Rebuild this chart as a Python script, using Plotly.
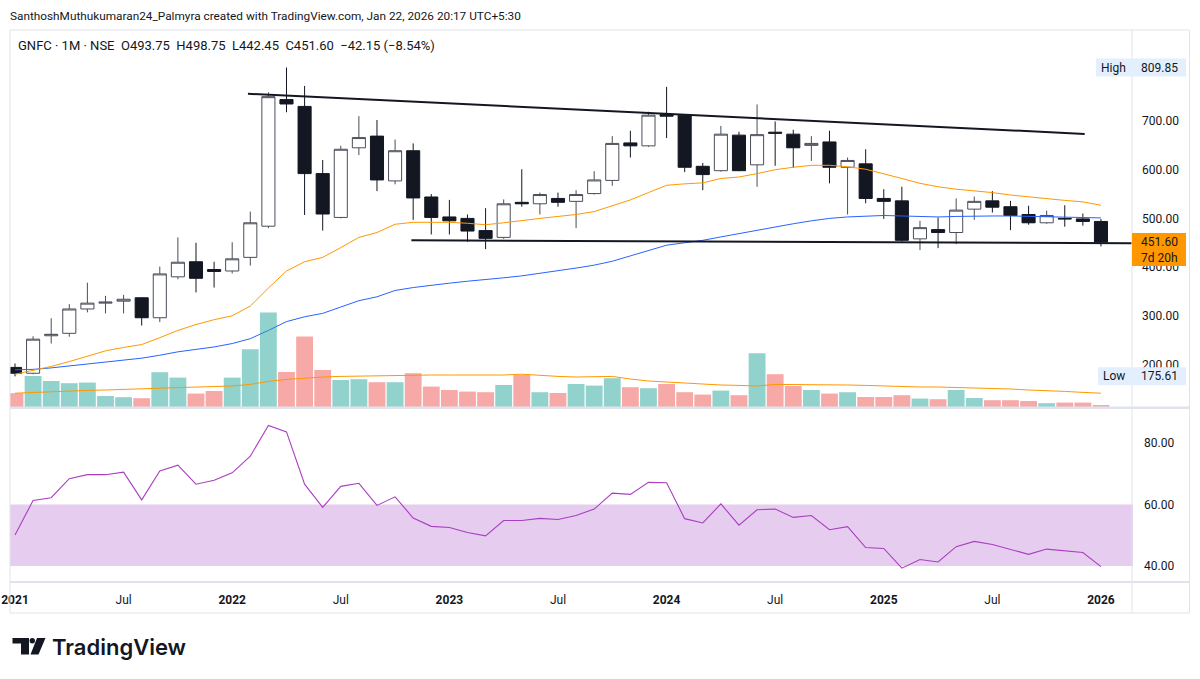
import plotly.graph_objects as go

# ---------------- data ----------------
months = [
    "2021-01", "2021-02", "2021-03", "2021-04", "2021-05", "2021-06", "2021-07", "2021-08", "2021-09", "2021-10", "2021-11", "2021-12",
    "2022-01", "2022-02", "2022-03", "2022-04", "2022-05", "2022-06", "2022-07", "2022-08", "2022-09", "2022-10", "2022-11", "2022-12",
    "2023-01", "2023-02", "2023-03", "2023-04", "2023-05", "2023-06", "2023-07", "2023-08", "2023-09", "2023-10", "2023-11", "2023-12",
    "2024-01", "2024-02", "2024-03", "2024-04", "2024-05", "2024-06", "2024-07", "2024-08", "2024-09", "2024-10", "2024-11", "2024-12",
    "2025-01", "2025-02", "2025-03", "2025-04", "2025-05", "2025-06", "2025-07", "2025-08", "2025-09", "2025-10", "2025-11", "2025-12",
    "2026-01",
]

open_ = [194, 182, 259, 264, 314, 326, 330, 337, 296, 380, 411, 395,
         392, 420, 484, 744, 730, 592, 502, 645, 669, 577, 639, 544,
         503, 500, 475, 461, 533, 530, 541, 535, 551, 578, 655, 649,
         713, 712, 607, 598, 671, 610, 677, 673, 650, 657, 605, 612,
         541, 536, 458, 477, 471, 519, 536, 524, 508, 491, 500, 499,
         493.75]
high = [202, 258, 295, 324, 368, 341, 343, 338, 401, 461, 450, 411,
        451, 514, 759, 809.85, 772, 620, 649, 710, 702, 662, 654, 550,
        538, 508, 521, 539, 601, 553, 553, 558, 597, 669, 680, 719,
        770, 714, 614, 690, 678, 734, 699, 682, 669, 680, 625, 642,
        560, 565, 495, 502, 541, 545, 556, 536, 526, 516, 527, 510,
        498.75]
low = [175.61, 180, 243, 257, 307, 305, 305, 280, 287, 375, 348, 358,
       387, 403, 480, 718, 507, 475, 500, 630, 556, 570, 497, 467,
       467, 452, 437, 458, 524, 508, 524, 480, 549, 567, 625, 647,
       665, 595, 558, 596, 597, 565, 608, 604, 618, 572, 508, 531,
       499, 452, 435, 439, 447, 497, 512, 476, 487, 489, 483, 485,
       442.45]
close = [182, 252, 262, 314, 326, 328, 334, 296, 386, 410, 377, 391,
         417, 491, 750, 735, 592, 509, 642, 666, 579, 639, 542, 502,
         495, 474, 459, 530, 530, 549, 533, 549, 579, 654, 649, 712,
         710, 605, 590, 673, 598, 672, 675, 645, 654, 605, 619, 541,
         535, 455, 481, 471, 517, 535, 523, 506, 491, 506, 499, 493.75,
         451.60]

# volume, millions of shares
volume = [6.9, 15.5, 13.0, 11.9, 12.2, 5.5, 4.9, 4.4, 17.4, 14.7, 6.7, 8.0,
          14.7, 28.9, 47.2, 17.5, 35.2, 18.5, 13.5, 13.9, 12.4, 12.4, 16.9, 10.2,
          8.5, 7.7, 7.4, 11.0, 16.0, 7.4, 7.0, 11.5, 10.7, 14.4, 9.9, 9.4,
          11.5, 7.4, 6.2, 8.2, 5.9, 26.9, 16.4, 10.5, 8.5, 6.7, 7.4, 5.0,
          5.0, 5.9, 4.2, 3.9, 8.5, 4.5, 3.4, 3.4, 3.0, 1.9, 2.2, 2.2,
          1.0]
volume_ma = [6.9, 7.3, 7.7, 8.0, 8.3, 8.5, 8.9, 9.1, 9.4, 9.7, 9.9, 10.2,
             10.5, 11.3, 12.8, 13.8, 14.5, 15.0, 15.3, 15.5, 15.5, 15.8, 16.0, 16.0,
             16.0, 16.0, 16.0, 16.0, 16.4, 15.8, 15.3, 15.0, 15.0, 15.3, 14.0, 13.0,
             12.5, 12.0, 11.3, 11.0, 10.8, 10.5, 11.3, 11.3, 11.0, 11.0, 11.0, 10.8,
             10.5, 10.3, 10.0, 10.0, 9.8, 9.5, 9.4, 9.0, 8.5, 8.3, 7.8, 7.3,
             6.9]

ma_orange = [180, 188, 196, 206, 217, 228, 235, 241, 255, 270, 282, 292,
             300, 320, 357, 392, 411, 420, 440, 461, 471, 488, 492, 492,
             492, 490, 487, 491, 496, 500, 504, 508, 514, 526, 538, 553,
             568, 571, 573, 582, 585, 592, 600, 605, 609, 609, 606, 601,
             592, 582, 572, 565, 560, 557, 553, 548, 544, 541, 537, 534,
             527]
ma_blue = [189, 190, 193, 197, 201, 205, 209, 213, 219, 226, 231, 236,
           243, 253, 270, 288, 298, 305, 318, 331, 339, 352, 358, 363,
           367, 371, 374, 378, 382, 387, 393, 398, 404, 412, 423, 434,
           445, 450, 455, 462, 469, 476, 483, 489, 495, 500, 503, 505,
           506, 505, 504, 503, 504, 505, 505, 505, 504, 503, 503, 502,
           501]

rsi = [50.1, 61.3, 62.2, 68.4, 69.7, 69.7, 70.5, 61.5, 70.9, 72.8, 66.6, 67.9,
       70.3, 75.7, 85.7, 83.6, 66.6, 59.1, 65.9, 66.9, 59.7, 62.5, 55.6, 52.9,
       52.5, 50.9, 49.8, 54.8, 54.8, 55.5, 55.1, 56.4, 58.5, 63.7, 63.3, 67.2,
       67.1, 55.4, 54.0, 60.2, 53.3, 58.3, 58.5, 55.8, 56.4, 51.8, 52.8, 46.0,
       45.7, 39.3, 42.1, 41.3, 46.3, 48.0, 47.0, 45.4, 43.8, 45.5, 44.9, 44.4,
       39.8]
rsi_band = [40, 60]

# trend lines drawn on the chart (bar index, price)
upper_trend_x = [12.87, 59.1]
upper_trend_y = [756, 673.5]
lower_trend_x = [21.9, 61.7]
lower_trend_y = [455, 449]

tick_months = ["2021-01", "2021-07", "2022-01", "2022-07", "2023-01", "2023-07",
               "2024-01", "2024-07", "2025-01", "2025-07", "2026-01"]
tick_labels = ["2021", "Jul", "2022", "Jul", "2023", "Jul", "2024", "Jul", "2025", "Jul", "2026"]
price_ticks = [200, 300, 400, 500, 600, 700]
rsi_ticks = [40, 60, 80]

header = "SanthoshMuthukumaran24_Palmyra created with TradingView.com, Jan 22, 2026 20:17 UTC+5:30"
symbol_line = "GNFC · 1M · NSE"
time_left = "7d 20h"

# ---------------- layout helpers ----------------
W, H = 1200, 679
def fx(p):
    return p / W
def fy(p):
    return 1 - p / H

FONT = "Roboto, 'Liberation Sans', sans-serif"
TXT = "#131722"
GRID = "#E0E3EB"

xs = list(range(len(months)))
x_range = [-0.276, 61.77]
tick_pos = [months.index(m) for m in tick_months]
tick_text = [("<b>%s</b>" % t) if t.isdigit() else t for t in tick_labels]

up_col = "rgba(38,166,154,0.5)"
dn_col = "rgba(239,83,80,0.5)"
vol_colors = [up_col if c >= o else dn_col for o, c in zip(open_, close)]

fig = go.Figure()

fig.add_trace(go.Bar(x=xs, y=volume, marker=dict(color=vol_colors, line=dict(width=0)),
                     xaxis="x", yaxis="y2", hoverinfo="skip", showlegend=False))
fig.add_trace(go.Scatter(x=xs, y=volume_ma, mode="lines", line=dict(color="#FF9800", width=1),
                         xaxis="x", yaxis="y2", hoverinfo="skip", showlegend=False))
fig.add_trace(go.Scatter(x=xs, y=ma_blue, mode="lines", line=dict(color="#2962FF", width=1),
                         xaxis="x", yaxis="y", hoverinfo="skip", showlegend=False))
fig.add_trace(go.Scatter(x=xs, y=ma_orange, mode="lines", line=dict(color="#FF9800", width=1),
                         xaxis="x", yaxis="y", hoverinfo="skip", showlegend=False))
fig.add_trace(go.Candlestick(
    x=xs, open=open_, high=high, low=low, close=close,
    increasing=dict(line=dict(color="#4A4E59", width=1), fillcolor="#FFFFFF"),
    decreasing=dict(line=dict(color="#131722", width=1), fillcolor="#131722"),
    whiskerwidth=0, xaxis="x", yaxis="y", hoverinfo="skip", showlegend=False))
fig.add_trace(go.Scatter(x=xs, y=rsi, mode="lines", line=dict(color="#A93FC0", width=1.1),
                         xaxis="x2", yaxis="y3", hoverinfo="skip", showlegend=False))

# trend lines
fig.add_trace(go.Scatter(x=upper_trend_x, y=upper_trend_y, mode="lines",
                         line=dict(color=TXT, width=2), xaxis="x", yaxis="y",
                         hoverinfo="skip", showlegend=False))
fig.add_trace(go.Scatter(x=lower_trend_x, y=lower_trend_y, mode="lines",
                         line=dict(color=TXT, width=2), xaxis="x", yaxis="y",
                         hoverinfo="skip", showlegend=False, cliponaxis=False))

x_dom = [fx(10), fx(1133)]
main_dom = [fy(407), fy(30)]
rsi_dom = [fy(582), fy(408)]

tickfont = dict(family=FONT, size=12, color=TXT)

fig.update_layout(
    width=W, height=H, margin=dict(l=0, r=0, t=0, b=0, autoexpand=False),
    paper_bgcolor="#FFFFFF", plot_bgcolor="#FFFFFF",
    showlegend=False, hovermode=False, bargap=0.07, boxgap=0.15, boxgroupgap=0.15,
    xaxis=dict(domain=x_dom, range=x_range, anchor="y", showticklabels=False,
               showgrid=False, zeroline=False, showline=False, ticks="",
               rangeslider=dict(visible=False), fixedrange=True, automargin=False),
    yaxis=dict(domain=main_dom, range=[112.7, 886.9], anchor="x", side="right",
               tickvals=price_ticks, ticktext=["%.2f" % v for v in price_ticks],
               showgrid=False, zeroline=False, showline=False, ticks="",
               ticklabelstandoff=8, tickfont=tickfont, fixedrange=True, automargin=False),
    yaxis2=dict(overlaying="y", range=[0, 188.5], anchor="x", visible=False,
                showgrid=False, zeroline=False, fixedrange=True, automargin=False),
    xaxis2=dict(domain=x_dom, range=x_range, anchor="y3", matches="x",
                tickvals=tick_pos, ticktext=tick_text, showgrid=False,
                zeroline=False, showline=False, ticks="", ticklabelstandoff=9,
                tickfont=tickfont, fixedrange=True, automargin=False),
    yaxis3=dict(domain=rsi_dom, range=[34.8, 91.38], anchor="x2", side="right",
                tickvals=rsi_ticks, ticktext=["%.2f" % v for v in rsi_ticks],
                showgrid=False, zeroline=False, showline=False, ticks="",
                ticklabelstandoff=10, tickfont=tickfont, fixedrange=True, automargin=False),
)

shapes = []
# RSI band
shapes.append(dict(type="rect", xref="x2 domain", yref="y3", x0=0, x1=1,
                   y0=rsi_band[0], y1=rsi_band[1], fillcolor="#E6CCEE",
                   line=dict(width=0), layer="below"))
# frame and separators
shapes.append(dict(type="rect", xref="paper", yref="paper", x0=fx(10), x1=fx(1189.5),
                   y0=fy(613), y1=fy(30), line=dict(color=GRID, width=1)))
shapes.append(dict(type="line", xref="paper", yref="paper", x0=fx(1132), x1=fx(1132),
                   y0=fy(613), y1=fy(30), line=dict(color=GRID, width=1)))
shapes.append(dict(type="line", xref="paper", yref="paper", x0=fx(10), x1=fx(1189.5),
                   y0=fy(407.7), y1=fy(407.7), line=dict(color=GRID, width=2.5)))
shapes.append(dict(type="line", xref="paper", yref="paper", x0=fx(10), x1=fx(1189.5),
                   y0=fy(582), y1=fy(582), line=dict(color=GRID, width=2)))

hi_val = max(high)
lo_val = min(low)
last_close = close[-1]

# High / Low / last price boxes
shapes.append(dict(type="rect", xref="paper", yref="y", ysizemode="pixel", yanchor=hi_val,
                   x0=fx(1096), x1=fx(1186), y0=-9, y1=9, fillcolor="#E3EFFD",
                   line=dict(width=0)))
shapes.append(dict(type="rect", xref="paper", yref="y", ysizemode="pixel", yanchor=lo_val,
                   x0=fx(1098), x1=fx(1186), y0=-9, y1=9, fillcolor="#E3EFFD",
                   line=dict(width=0)))
shapes.append(dict(type="rect", xref="paper", yref="y", ysizemode="pixel", yanchor=last_close,
                   x0=fx(1132), x1=fx(1186), y0=-24, y1=9, fillcolor="#FF9800",
                   line=dict(width=0)))

# TradingView logo glyph
def path(pts):
    s = "M %f %f " % (fx(pts[0][0]), fy(pts[0][1]))
    for p in pts[1:]:
        s += "L %f %f " % (fx(p[0]), fy(p[1]))
    return s + "Z"

shapes.append(dict(type="path", xref="paper", yref="paper",
                   path=path([(12.5, 638), (29, 638), (29, 654.5), (21, 654.5), (21, 643.5), (12.5, 643.5)]),
                   fillcolor=TXT, line=dict(width=0)))
shapes.append(dict(type="circle", xref="paper", yref="paper",
                   x0=fx(29.6), x1=fx(35), y0=fy(643.5), y1=fy(638),
                   fillcolor=TXT, line=dict(width=0)))
shapes.append(dict(type="path", xref="paper", yref="paper",
                   path=path([(37, 638), (45.5, 638), (38.5, 654.5), (30.5, 654.5)]),
                   fillcolor=TXT, line=dict(width=0)))

fig.update_layout(shapes=shapes)

prev_close = close[-2]
chg = close[-1] - prev_close
sign = "\u2212" if chg < 0 else "+"

ann = []
ann.append(dict(text=header, xref="paper", yref="paper", x=fx(8), y=fy(16),
                xanchor="left", yanchor="middle", showarrow=False,
                font=dict(family=FONT, size=11.8, color=TXT)))
legend_text = ("%s\u00a0\u00a0O%.2f\u00a0\u00a0H%.2f\u00a0\u00a0L%.2f\u00a0\u00a0C%.2f\u00a0\u00a0%s%.2f\u00a0(%s%.2f%%)"
               % (symbol_line, open_[-1], high[-1], low[-1], close[-1],
                  sign, abs(chg), sign, abs(chg) / prev_close * 100))
ann.append(dict(text=legend_text, xref="paper", yref="paper", x=fx(16), y=fy(46),
                xanchor="left", yanchor="middle", showarrow=False,
                font=dict(family=FONT, size=13, color=TXT)))
ann.append(dict(text="High", xref="paper", yref="y", x=fx(1099), y=hi_val,
                xanchor="left", yanchor="middle", showarrow=False, font=tickfont))
ann.append(dict(text="%.2f" % hi_val, xref="paper", yref="y", x=fx(1139), y=hi_val,
                xanchor="left", yanchor="middle", showarrow=False, font=tickfont))
ann.append(dict(text="Low", xref="paper", yref="y", x=fx(1101), y=lo_val,
                xanchor="left", yanchor="middle", showarrow=False, font=tickfont))
ann.append(dict(text="%.2f" % lo_val, xref="paper", yref="y", x=fx(1139), y=lo_val,
                xanchor="left", yanchor="middle", showarrow=False, font=tickfont))
ann.append(dict(text="%.2f" % last_close, xref="paper", yref="y", x=fx(1139), y=last_close,
                xanchor="left", yanchor="middle", showarrow=False, font=tickfont))
ann.append(dict(text=time_left, xref="paper", yref="y", x=fx(1139), y=last_close, yshift=-16,
                xanchor="left", yanchor="middle", showarrow=False, font=tickfont))
ann.append(dict(text="TradingView", xref="paper", yref="paper", x=fx(50), y=fy(646.5),
                xanchor="left", yanchor="middle", showarrow=False,
                font=dict(family="Inter, sans-serif", size=22, color=TXT, weight=600)))
fig.update_layout(annotations=ann)

fig.write_html("out.html", include_plotlyjs=True, config={"displayModeBar": False})
